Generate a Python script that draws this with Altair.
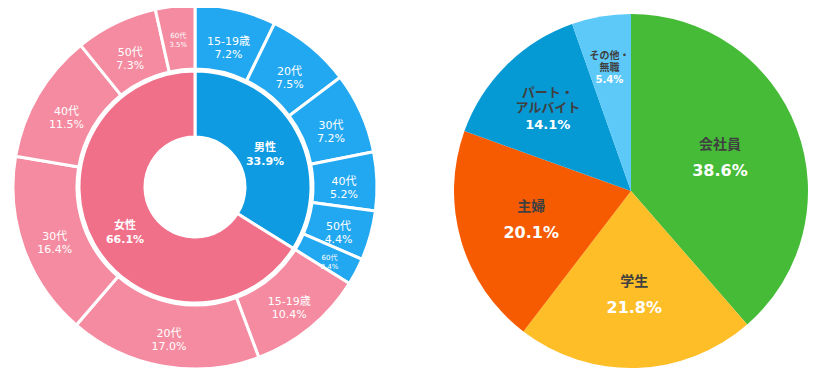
import altair as alt
import pandas as pd

# ---- data ----
gender = ["男性", "女性"]
gender_pct = [33.9, 66.1]

ages = ["15-19歳", "20代", "30代", "40代", "50代", "60代"]
male_pct = [7.2, 7.5, 7.2, 5.2, 4.4, 2.4]
female_pct = [10.4, 17.0, 16.4, 11.5, 7.3, 3.5]

jobs = ["会社員", "学生", "主婦", "パート・\nアルバイト", "その他・\n無職"]
job_pct = [38.6, 21.8, 20.1, 14.1, 5.4]

# ---- styles ----
inner_colors = ["#0E9BE2", "#F07089"]
outer_colors = ["#22A8F1", "#F58BA0"]
job_colors = ["#45BB38", "#FEBE28", "#F65B01", "#069AD5", "#5CC9F9"]
FONT = "DejaVu Sans, Noto Sans CJK JP"
SUN_X, SUN_Y = 187, 179
PIE_X, PIE_Y = 623, 183

inner_df = pd.DataFrame({"name": gender, "pct": gender_pct, "order": range(len(gender))})
outer_rows = []
for g, vals in zip(gender, [male_pct, female_pct]):
    for a, v in zip(ages, vals):
        outer_rows.append({"gender": g, "age": a, "pct": v})
outer_df = pd.DataFrame(outer_rows)
outer_df["order"] = range(len(outer_df))
pie_df = pd.DataFrame({"job": jobs, "pct": job_pct, "order": range(len(jobs))})

TH = alt.Scale(domain=[0, 100])


def stacked(df):
    return (
        alt.Chart(df)
        .transform_window(end="sum(pct)", sort=[{"field": "order"}], frame=[None, 0])
        .transform_calculate(start="datum.end - datum.pct", mid="datum.end - datum.pct / 2")
    )


def theta_pair():
    return dict(
        theta=alt.Theta("start:Q", stack=None, scale=TH),
        theta2=alt.Theta2("end:Q"),
    )


def theta_mid():
    return alt.Theta("mid:Q", stack=None, scale=TH)


inner = stacked(inner_df)
inner_arc = inner.mark_arc(innerRadius=50, outerRadius=116, stroke="white", strokeWidth=3).encode(
    x=alt.value(SUN_X), y=alt.value(SUN_Y),
    color=alt.Color("name:N", scale=alt.Scale(domain=gender, range=inner_colors), legend=None),
    **theta_pair(),
)
inner_txt = inner.transform_calculate(
    label="datum.name + '\\n' + format(datum.pct, '.1f') + '%'"
).mark_text(font=FONT, fontSize=11, fontWeight="bold", color="white", lineBreak="\n", lineHeight=14).encode(
    x=alt.value(SUN_X), y=alt.value(SUN_Y), theta=theta_mid(), radius=alt.value(80), text="label:N"
)

outer = stacked(outer_df)
outer_arc = outer.mark_arc(innerRadius=118, outerRadius=182, stroke="white", strokeWidth=3).encode(
    x=alt.value(SUN_X), y=alt.value(SUN_Y),
    color=alt.Color("gender:N", scale=alt.Scale(domain=gender, range=outer_colors), legend=None),
    **theta_pair(),
)
outer_txt = outer.transform_calculate(
    label="datum.age + '\\n' + format(datum.pct, '.1f') + '%'"
).transform_filter("datum.age != '60代'").mark_text(
    font=FONT, fontSize=11, color="white", lineBreak="\n", lineHeight=13
).encode(x=alt.value(SUN_X), y=alt.value(SUN_Y), theta=theta_mid(), radius=alt.value(149), text="label:N")
outer_txt_small = outer.transform_calculate(
    label="datum.age + '\\n' + format(datum.pct, '.1f') + '%'"
).transform_filter("datum.age == '60代'").mark_text(
    font=FONT, fontSize=7, color="white", lineBreak="\n", lineHeight=9
).encode(x=alt.value(SUN_X), y=alt.value(SUN_Y), theta=theta_mid(), radius=alt.value(152), text="label:N")

pie = stacked(pie_df).transform_calculate(pctlabel="format(datum.pct, '.1f') + '%'")
pie_arc = pie.mark_arc(outerRadius=177).encode(
    x=alt.value(PIE_X), y=alt.value(PIE_Y),
    color=alt.Color("job:N", scale=alt.Scale(domain=jobs, range=job_colors), legend=None),
    **theta_pair(),
)


def pie_labels(filt, r, name_size, pct_size, name_dy, pct_dy, lh):
    sub = pie.transform_filter(filt)
    name = sub.mark_text(font=FONT, fontSize=name_size, fontWeight="bold", color="#404040", dy=name_dy,
                         lineBreak="\n", lineHeight=lh).encode(
        x=alt.value(PIE_X), y=alt.value(PIE_Y), theta=theta_mid(), radius=alt.value(r), text="job:N"
    )
    pct = sub.mark_text(font=FONT, fontSize=pct_size, fontWeight="bold", color="white", dy=pct_dy).encode(
        x=alt.value(PIE_X), y=alt.value(PIE_Y), theta=theta_mid(), radius=alt.value(r), text="pctlabel:N"
    )
    return [name, pct]


labels = (
    pie_labels("datum.order == 0", 95, 14, 16, -13, 13, 16)
    + pie_labels("datum.order == 1 || datum.order == 2", 104, 14, 16, -13, 13, 16)
    + pie_labels("datum.order == 3", 118, 13, 13, -14, 18, 15)
    + pie_labels("datum.order == 4", 128, 10, 10, -9, 15, 12)
)

chart = (
    alt.layer(outer_arc, inner_arc, outer_txt, outer_txt_small, inner_txt, pie_arc, *labels)
    .resolve_scale(color="independent")
    .properties(width=803, height=363, autosize="none", padding=0)
    .configure_view(stroke=None)
)

chart.save("out.html", embed_options={"renderer": "svg", "actions": False})
